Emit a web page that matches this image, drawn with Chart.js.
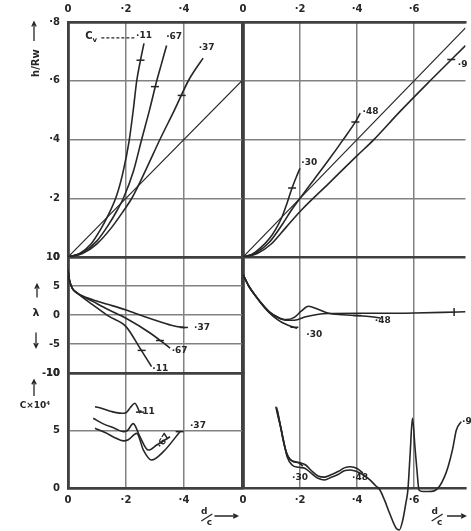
<!DOCTYPE html>
<html>
<head>
<meta charset="utf-8">
<script src="https://cdn.jsdelivr.net/npm/chart.js@4.4.1/dist/chart.umd.min.js"></script>
<style>
    html, body { margin: 0; padding: 0; background: #fff; }
    body { width: 471px; height: 531px; position: relative; overflow: hidden; }
    .panel { position: absolute; top: 0; height: 531px; }
    #left { left: 0; width: 250px; }
    #right { left: 236px; width: 235px; }
</style>
</head>
<body>
<div class="panel" id="left"><canvas id="chartLeft"></canvas></div>
<div class="panel" id="right"><canvas id="chartRight"></canvas></div>
<script>
// tick values
var xTicks = [0, 0.2, 0.4, 0.6];
var hTicks = [0, 0.2, 0.4, 0.6, 0.8];
var lamTicks = [-10, -5, 0, 5, 10];
var cTicks = [0, 5, 10];

var cvLeft = ['·11', '·67', '·37'];
var cvRight = ['·30', '·48', '·9'];

// left column : h/Rw against d/c
var hL11 = [[0,0],[0.04,0.012],[0.08,0.045],[0.11,0.09],[0.14,0.145],[0.168,0.21],[0.19,0.29],[0.21,0.39],[0.225,0.5],[0.237,0.6],[0.25,0.67],[0.262,0.727]];
var hL67 = [[0,0],[0.05,0.015],[0.1,0.055],[0.14,0.11],[0.17,0.16],[0.191,0.2],[0.225,0.29],[0.254,0.4],[0.281,0.5],[0.306,0.6],[0.323,0.66],[0.34,0.72]];
var hL37 = [[0,0],[0.05,0.012],[0.1,0.045],[0.15,0.1],[0.19,0.155],[0.22,0.2],[0.27,0.3],[0.317,0.4],[0.367,0.5],[0.415,0.6],[0.44,0.64],[0.466,0.677]];
var hLineL = [[0,0],[0.6,0.6]];

// left column : lambda
var lamL11 = [[0,7.8],[0.005,6.0],[0.015,4.6],[0.031,3.8],[0.087,1.7],[0.14,-0.2],[0.2,-2.0],[0.248,-5.7],[0.288,-8.9]];
var lamL67 = [[0,7.8],[0.005,6.0],[0.015,4.6],[0.031,3.8],[0.087,2.3],[0.14,0.9],[0.2,-0.57],[0.283,-3.1],[0.352,-5.7]];
var lamL37 = [[0,7.8],[0.005,6.0],[0.015,4.6],[0.031,3.8],[0.087,2.6],[0.14,1.8],[0.2,0.86],[0.26,-0.2],[0.317,-1.15],[0.363,-1.85],[0.403,-2.2]];

// left column : C x 10^4
var cL11 = [[0.093,7.07],[0.12,6.9],[0.15,6.65],[0.185,6.5],[0.2,6.55],[0.215,7.0],[0.231,7.37],[0.24,7.0],[0.248,6.5]];
var cL67 = [[0.087,6.06],[0.12,5.6],[0.16,5.2],[0.191,4.9],[0.205,5.0],[0.225,5.6],[0.248,4.46],[0.277,3.3],[0.306,3.74],[0.352,4.46]];
var cL37 = [[0.093,5.2],[0.13,4.8],[0.16,4.4],[0.191,4.1],[0.208,4.2],[0.237,4.75],[0.26,3.3],[0.288,2.43],[0.329,3.16],[0.386,4.9]];

// right column : h/Rw
var hR30 = [[0,0],[0.03,0.008],[0.06,0.03],[0.092,0.062],[0.115,0.095],[0.137,0.137],[0.155,0.185],[0.172,0.235],[0.188,0.275],[0.2,0.302]];
var hR48 = [[0,0],[0.047,0.015],[0.092,0.05],[0.137,0.11],[0.17,0.16],[0.2,0.2],[0.25,0.265],[0.3,0.33],[0.35,0.398],[0.394,0.46],[0.411,0.49]];
var hR9 = [[0,0],[0.05,0.012],[0.1,0.045],[0.15,0.1],[0.205,0.16],[0.3,0.25],[0.4,0.345],[0.457,0.398],[0.55,0.495],[0.656,0.6],[0.78,0.72]];
var hLineR = [[0,0],[0.78,0.78]];

// right column : lambda
var lamR30 = [[0,7.0],[0.02,5.0],[0.047,3.1],[0.07,1.6],[0.092,0.4],[0.115,-0.6],[0.137,-1.3],[0.16,-1.8],[0.19,-2.3]];
var lamR48 = [[0,7.0],[0.02,5.0],[0.047,3.1],[0.07,1.7],[0.092,0.6],[0.12,-0.3],[0.15,-0.8],[0.18,-0.4],[0.205,0.7],[0.229,1.5],[0.263,1.0],[0.3,0.3],[0.35,0.05],[0.4,-0.1],[0.45,-0.3],[0.48,-0.5]];
var lamR9 = [[0,7.0],[0.02,5.0],[0.047,3.1],[0.07,1.7],[0.092,0.5],[0.12,-0.4],[0.15,-0.9],[0.18,-0.9],[0.22,-0.3],[0.26,0.1],[0.3,0.25],[0.4,0.3],[0.5,0.3],[0.6,0.35],[0.7,0.45],[0.78,0.55]];

// right column : C x 10^4
var cR30 = [[0.118,7.0],[0.126,6.0],[0.135,4.9],[0.147,3.5],[0.158,2.7],[0.175,2.3],[0.195,2.2],[0.21,1.9]];
var cR48 = [[0.12,6.8],[0.13,5.6],[0.14,4.3],[0.152,3.1],[0.165,2.5],[0.18,2.3],[0.2,2.2],[0.22,2.0],[0.24,1.5],[0.263,1.05],[0.286,0.95],[0.309,1.15],[0.335,1.45],[0.355,1.75],[0.377,1.85],[0.4,1.7],[0.42,1.3]];
var cR9 = [[0.115,7.07],[0.123,6.2],[0.132,5.3],[0.144,3.9],[0.155,2.7],[0.172,2.0],[0.195,1.8],[0.218,1.7],[0.24,1.27],[0.263,0.84],[0.286,0.7],[0.309,0.93],[0.335,1.2],[0.355,1.5],[0.377,1.57],[0.4,1.42],[0.423,1.13],[0.445,0.7],[0.465,0.2],[0.48,-0.17],[0.497,-1.1],[0.514,-2.2],[0.537,-3.5],[0.548,-3.65],[0.56,-2.8],[0.571,-1.3],[0.578,-0.17],[0.586,3.0],[0.594,6.06],[0.603,3.5],[0.61,1.5],[0.617,-0.17],[0.63,-0.3],[0.65,-0.3],[0.67,-0.25],[0.69,0.2],[0.705,0.9],[0.719,1.85],[0.735,3.4],[0.748,5.04],[0.765,5.77]];

// short cross marks on the curves
var marksLTop = [[0.25,0.67],[0.3,0.58],[0.392,0.55]];
var marksLMid = [[0.4,-2.15],[0.317,-4.4],[0.254,-6.1]];
var marksLBot = [[0.248,6.6],[0.385,4.9]];
var marksRTop = [[0.172,0.235],[0.394,0.46],[0.73,0.672]];
var marksRMid = [[0.18,-2.1],[0.4,-0.1]];
var marksRMidV = [[0.74,0.5]];

var ink = '#262626';
var frame = '#404040';
var gridGray = '#828282';
var tickFont = { family: 'DejaVu Sans', size: 10, weight: 'bold' };

function pts(a) {
    return a.map(function (p) { return { x: p[0], y: p[1] }; });
}

function curve(a, yId, extra) {
    return Object.assign({
        data: pts(a), xAxisID: 'x', yAxisID: yId, showLine: true,
        borderColor: ink, borderWidth: 1.6, pointRadius: 0,
        cubicInterpolationMode: 'monotone', fill: false
    }, extra || {});
}

function marks(a, yId, rot) {
    return {
        data: pts(a), xAxisID: 'x', yAxisID: yId, showLine: false,
        pointStyle: 'line', pointRadius: 4, rotation: rot || 0,
        pointBorderColor: ink, pointBorderWidth: 1.5, borderColor: ink
    };
}

function decimal(v) {
    return v === 0 ? '0' : '·' + Math.round(v * 10);
}

function setTicks(list) {
    return function (s) { s.ticks = list.map(function (v) { return { value: v }; }); };
}

function isEdge(edges) {
    return function (c) { return c.tick && edges.indexOf(c.tick.value) >= 0; };
}

function yAxis(min, max, ticks, fmt, weight, order, show, width) {
    var edge = isEdge([min, max]);
    return {
        type: 'linear', axis: 'y', position: 'left', stack: 'panels', stackWeight: weight, weight: order,
        min: min, max: max,
        afterBuildTicks: setTicks(ticks),
        afterFit: function (s) { s.width = width; s.paddingTop = 0; s.paddingBottom = 0; },
        ticks: { display: show, font: tickFont, color: ink, padding: 8, callback: fmt },
        grid: {
            drawTicks: false,
            color: function (c) { return edge(c) ? frame : gridGray; },
            lineWidth: function (c) { return edge(c) ? 2.6 : 1.5; }
        },
        border: { display: true, color: frame, width: 2.6 }
    };
}

function xAxis(max, pos, height, fmt, edges) {
    var edge = isEdge(edges);
    var top = pos === 'top';
    return {
        type: 'linear', axis: 'x', position: pos, min: 0, max: max,
        afterBuildTicks: setTicks(xTicks),
        afterFit: function (s) { s.height = height; s.paddingLeft = 0; s.paddingRight = 0; },
        ticks: { font: tickFont, color: ink, padding: top ? 7 : 6, maxRotation: 0, callback: fmt },
        grid: {
            drawTicks: false, drawOnChartArea: !top,
            color: function (c) { return edge(c) ? frame : gridGray; },
            lineWidth: function (c) { return edge(c) ? 2.6 : 1.5; }
        },
        border: { display: true, color: frame, width: 2.6 }
    };
}

function arrow(ctx, x1, y1, x2, y2) {
    var a = Math.atan2(y2 - y1, x2 - x1);
    ctx.beginPath();
    ctx.moveTo(x1, y1); ctx.lineTo(x2, y2);
    ctx.moveTo(x2 - 5 * Math.cos(a - 0.45), y2 - 5 * Math.sin(a - 0.45));
    ctx.lineTo(x2, y2);
    ctx.lineTo(x2 - 5 * Math.cos(a + 0.45), y2 - 5 * Math.sin(a + 0.45));
    ctx.stroke();
}

function dcTitle(chart, ctx, xd, xa1, xa2) {
    var sx = chart.scales.x, b = chart.chartArea.bottom;
    var px = sx.getPixelForValue(xd);
    ctx.font = 'bold 9px "DejaVu Sans"';
    ctx.fillText('d', px, b + 24);
    ctx.fillText('c', px + 5, b + 35);
    ctx.beginPath(); ctx.moveTo(px - 3, b + 33); ctx.lineTo(px + 8, b + 26); ctx.stroke();
    arrow(ctx, sx.getPixelForValue(xa1), b + 28, sx.getPixelForValue(xa2), b + 28);
}

// curve labels : text, d/c, value, axis, rotation
function notesPlugin(notes, extra) {
    return {
        id: 'notes',
        afterDatasetsDraw: function (chart) {
            var ctx = chart.ctx, sx = chart.scales.x;
            ctx.save();
            ctx.fillStyle = ink; ctx.strokeStyle = ink; ctx.lineWidth = 1.3;
            ctx.textAlign = 'center'; ctx.textBaseline = 'middle';
            notes.forEach(function (n) {
                ctx.font = 'bold 9px "DejaVu Sans"';
                ctx.save();
                ctx.translate(sx.getPixelForValue(n[1]), chart.scales[n[3]].getPixelForValue(n[2]));
                if (n[4]) { ctx.rotate(n[4]); }
                ctx.fillText(n[0], 0, 0);
                ctx.restore();
            });
            extra(chart, ctx);
            ctx.restore();
        }
    };
}

function leftTitles(chart, ctx) {
    var a = chart.chartArea, sx = chart.scales.x;
    var yT = chart.scales.yTop, yM = chart.scales.yMid, yB = chart.scales.yBot;
    var tx = a.left - 34;

    arrow(ctx, tx, yT.getPixelForValue(0.735), tx, yT.getPixelForValue(0.8));
    ctx.save();
    ctx.font = 'bold 10px "DejaVu Sans"';
    ctx.translate(tx + 2, yT.getPixelForValue(0.66));
    ctx.rotate(-Math.PI / 2);
    ctx.fillText('h/Rw', 0, 0);
    ctx.restore();

    arrow(ctx, tx + 3, yM.getPixelForValue(3.0), tx + 3, yM.getPixelForValue(5.3));
    ctx.font = 'bold 11px "DejaVu Sans"';
    ctx.fillText('λ', tx + 2, yM.getPixelForValue(0.3));
    arrow(ctx, tx + 2, yM.getPixelForValue(-3.0), tx + 2, yM.getPixelForValue(-5.6));

    arrow(ctx, tx, yB.getPixelForValue(8.0), tx, yB.getPixelForValue(9.4));
    ctx.font = 'bold 9px "DejaVu Sans"';
    ctx.fillText('C×10⁴', tx + 1, yB.getPixelForValue(7.2));

    // C_v leader in the top panel
    ctx.font = 'bold 10px "DejaVu Sans"';
    ctx.fillText('C', sx.getPixelForValue(0.072), yT.getPixelForValue(0.75));
    ctx.font = 'bold 7px "DejaVu Sans"';
    ctx.fillText('v', sx.getPixelForValue(0.072) + 6, yT.getPixelForValue(0.75) + 3);
    ctx.setLineDash([3, 2]);
    ctx.beginPath();
    ctx.moveTo(sx.getPixelForValue(0.115), yT.getPixelForValue(0.746));
    ctx.lineTo(sx.getPixelForValue(0.235), yT.getPixelForValue(0.746));
    ctx.stroke();
    ctx.setLineDash([]);

    dcTitle(chart, ctx, 0.47, 0.505, 0.585);
}

function rightTitles(chart, ctx) {
    dcTitle(chart, ctx, 0.672, 0.715, 0.78);
}

var notesLeft = [
    [cvLeft[0], 0.262, 0.752, 'yTop'], [cvLeft[1], 0.366, 0.749, 'yTop'], [cvLeft[2], 0.478, 0.711, 'yTop'],
    [cvLeft[2], 0.462, -2.2, 'yMid'], [cvLeft[1], 0.385, -6.2, 'yMid'], [cvLeft[0], 0.318, -9.3, 'yMid'],
    [cvLeft[0], 0.272, 6.6, 'yBot'], [cvLeft[1], 0.33, 4.1, 'yBot', -1.0], [cvLeft[2], 0.448, 5.45, 'yBot']
];
var notesRight = [
    [cvRight[0], 0.232, 0.32, 'yTop'], [cvRight[1], 0.447, 0.495, 'yTop'], [cvRight[2], 0.77, 0.655, 'yTop'],
    [cvRight[0], 0.25, -3.4, 'yMid'], [cvRight[1], 0.49, -0.9, 'yMid'],
    [cvRight[0], 0.2, 0.9, 'yBot'], [cvRight[1], 0.41, 0.9, 'yBot'], [cvRight[2], 0.785, 5.8, 'yBot']
];

function baseOptions(scales, padRight) {
    return {
        responsive: true, maintainAspectRatio: false, animation: false, events: [],
        layout: { padding: { top: 0, bottom: 0, left: 0, right: padRight } },
        plugins: { legend: { display: false }, tooltip: { enabled: false } },
        scales: scales
    };
}

var leftX = function (v) { return v === 0.6 ? '' : decimal(v); };

new Chart(document.getElementById('chartLeft').getContext('2d'), {
    type: 'scatter',
    data: {
        datasets: [
            curve(hL11, 'yTop'), curve(hL67, 'yTop'), curve(hL37, 'yTop'),
            curve(hLineL, 'yTop', { borderWidth: 1.2 }),
            curve(lamL11, 'yMid'), curve(lamL67, 'yMid'), curve(lamL37, 'yMid'),
            curve(cL11, 'yBot'), curve(cL67, 'yBot'), curve(cL37, 'yBot'),
            marks(marksLTop, 'yTop'), marks(marksLMid, 'yMid'), marks(marksLBot, 'yBot')
        ]
    },
    options: baseOptions({
        x: xAxis(0.6, 'bottom', 43, leftX, [0, 0.6]),
        x2: xAxis(0.6, 'top', 22, leftX, [0, 0.6]),
        yTop: yAxis(0, 0.8, hTicks, decimal, 235, 3, true, 68),
        yMid: yAxis(-10, 10, lamTicks, function (v) { return String(v); }, 116, 2, true, 68),
        yBot: yAxis(0, 10, cTicks, function (v) { return String(v); }, 115, 1, true, 68)
    }, 8),
    plugins: [notesPlugin(notesLeft, leftTitles)]
});

new Chart(document.getElementById('chartRight').getContext('2d'), {
    type: 'scatter',
    data: {
        datasets: [
            curve(hR30, 'yTop'), curve(hR48, 'yTop'), curve(hR9, 'yTop'),
            curve(hLineR, 'yTop', { borderWidth: 1.2 }),
            curve(lamR30, 'yMid'), curve(lamR48, 'yMid'), curve(lamR9, 'yMid'),
            curve(cR30, 'yBot'), curve(cR48, 'yBot'),
            curve(cR9, 'yBot', { clip: false }),
            marks(marksRTop, 'yTop'), marks(marksRMid, 'yMid'), marks(marksRMidV, 'yMid', 90)
        ]
    },
    options: baseOptions({
        x: xAxis(0.78, 'bottom', 43, decimal, [0]),
        x2: xAxis(0.78, 'top', 22, decimal, [0]),
        yTop: yAxis(0, 0.8, hTicks, decimal, 235, 3, false, 7),
        yMid: yAxis(-10, 10, lamTicks, null, 116, 2, false, 7),
        yBot: yAxis(0, 10, cTicks, null, 115, 1, false, 7)
    }, 0),
    plugins: [notesPlugin(notesRight, rightTitles)]
});
</script>
</body>
</html>
